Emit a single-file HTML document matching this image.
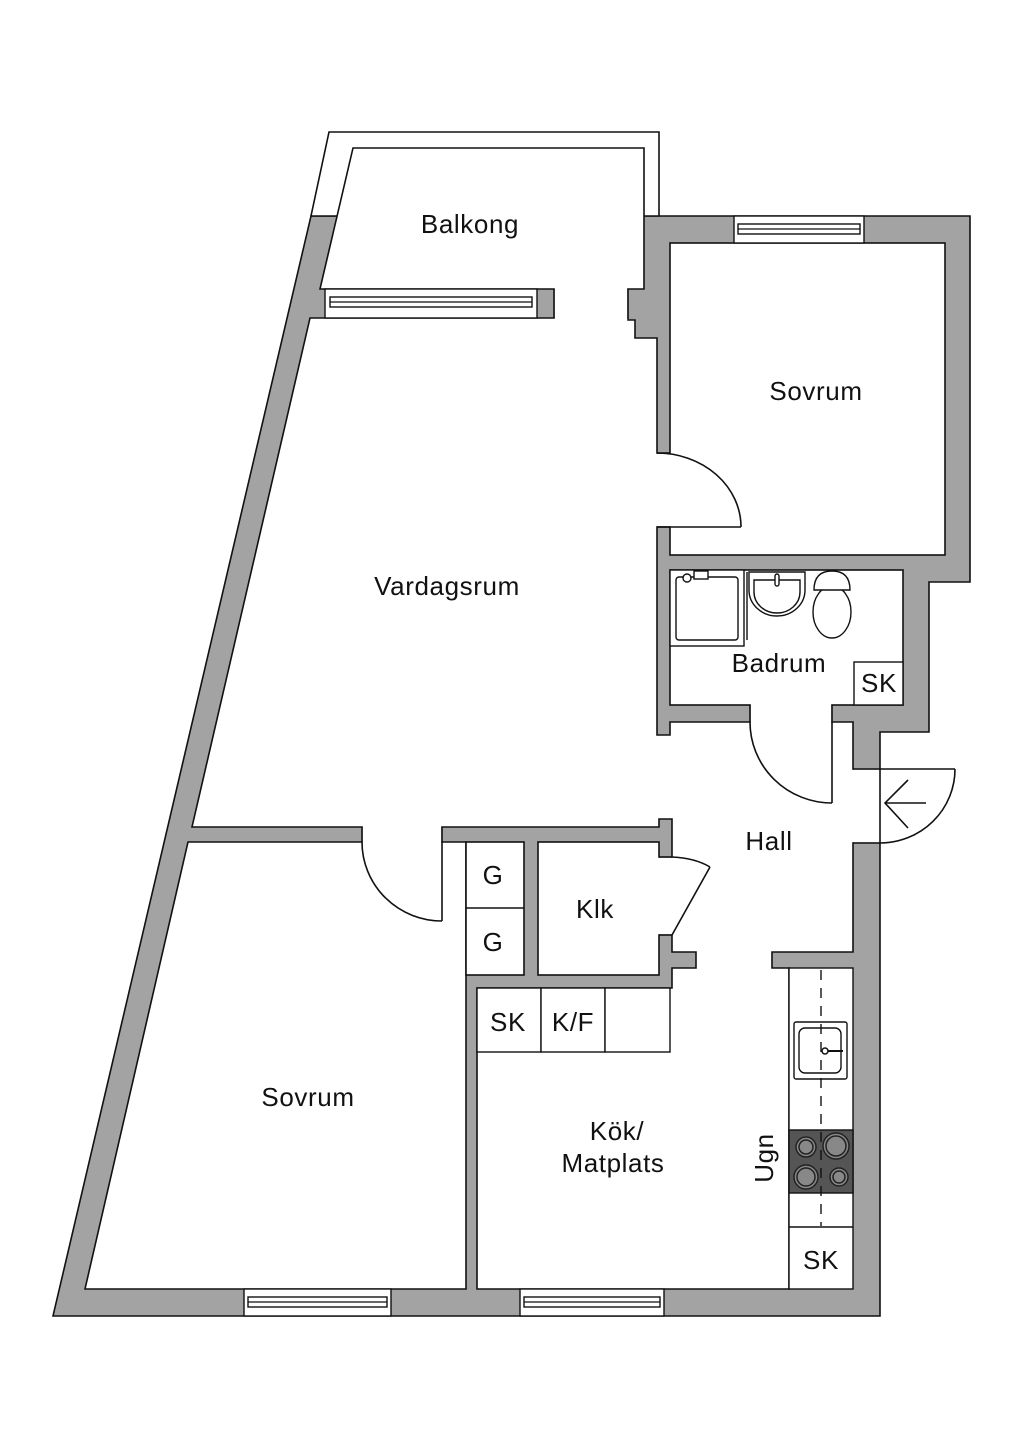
<!DOCTYPE html>
<html><head><meta charset="utf-8"><style>
html,body{margin:0;padding:0;background:#fff;}
svg{display:block;}
text{font-family:"Liberation Sans",sans-serif;font-size:26px;letter-spacing:0.6px;fill:#111;text-anchor:middle;dominant-baseline:central;}
</style></head><body>
<svg width="1024" height="1448" viewBox="0 0 1024 1448" xmlns="http://www.w3.org/2000/svg">
<g stroke="#111" stroke-width="1.6" stroke-linejoin="miter">
<polygon fill="#a3a3a3" points="311,216 970,216 970,582 929,582 929,732 880,732 880,1316 53,1316"/>
<polygon fill="#fff" points="329,132 659,132 659,216 311,216"/>
<polygon fill="#fff" points="353,148 644,148 644,289 320,289"/>
<polygon fill="#fff" points="310,318 628,318 628,320 635,320 635,338 657,338 657,735 670,735 670,722 853,722 853,952 772,952 772,968 789,968 789,1289 477,1289 477,988 672,988 672,968 696,968 696,952 672,952 672,819 659,819 659,827 192,827"/>
<rect fill="#fff" x="670" y="243" width="275" height="312"/>
<rect fill="#fff" x="670" y="570" width="233" height="135"/>
<polygon fill="#fff" points="188,842 466,842 466,1289 85,1289"/>
<rect fill="#fff" x="466" y="842" width="58" height="133"/>
<line x1="466" y1="908" x2="524" y2="908"/>
<rect fill="#fff" x="538" y="842" width="121" height="133"/>
</g>
<g fill="#fff">
<rect x="554.8" y="287" width="72.4" height="33"/>
<rect x="655" y="453.8" width="17" height="72.4"/>
<rect x="750.8" y="703" width="80.4" height="20"/>
<rect x="851" y="769.8" width="30.5" height="72.4"/>
<rect x="362.8" y="825" width="78.4" height="18.5"/>
<rect x="657" y="857.8" width="16.5" height="76.4"/>
</g>
<g stroke="#111" stroke-width="1.6" fill="none">
<line x1="554" y1="289" x2="554" y2="318"/><line x1="628" y1="289" x2="628" y2="318"/>
<line x1="657" y1="453" x2="670" y2="453"/><line x1="657" y1="527" x2="670" y2="527"/>
<line x1="750" y1="705" x2="750" y2="722"/><line x1="832" y1="705" x2="832" y2="722"/>
<line x1="853" y1="769" x2="880" y2="769"/><line x1="853" y1="843" x2="880" y2="843"/>
<line x1="880" y1="769" x2="880" y2="843"/>
<line x1="362" y1="827" x2="362" y2="842"/><line x1="442" y1="827" x2="442" y2="842"/>
<line x1="659" y1="857" x2="672" y2="857"/><line x1="659" y1="935" x2="672" y2="935"/>
<line x1="657" y1="527" x2="741" y2="527"/>
<path d="M657,453 A84,74 0 0 1 741,527"/>
<line x1="832" y1="722" x2="832" y2="803"/>
<path d="M750,722 A82,81 0 0 0 832,803"/>
<line x1="880" y1="769" x2="955" y2="769"/>
<path d="M955,769 A75,74 0 0 1 880,843"/>
<line x1="885" y1="803" x2="926" y2="803"/>
<polyline points="908,780 885,803 908,828"/>
<line x1="442" y1="842" x2="442" y2="921"/>
<path d="M362,842 A80,79 0 0 0 442,921"/>
<line x1="672" y1="935" x2="710" y2="867"/>
<path d="M672,857 Q695,858 710,867"/>
</g>
<g stroke="#111" stroke-width="1.4" fill="#fff">
<rect x="325" y="289" width="212" height="29"/>
<rect x="330" y="297" width="202" height="10"/>
<rect x="734" y="216" width="130" height="27"/>
<rect x="738" y="224" width="122" height="10"/>
<rect x="244" y="1289" width="147" height="27"/>
<rect x="248" y="1297" width="139" height="10"/>
<rect x="520" y="1289" width="144" height="27"/>
<rect x="524" y="1297" width="136" height="10"/>
</g>
<g stroke="#111" stroke-width="1.2" fill="none">
<line x1="330" y1="302" x2="532" y2="302"/>
<line x1="738" y1="229" x2="860" y2="229"/>
<line x1="248" y1="1302" x2="387" y2="1302"/>
<line x1="524" y1="1302" x2="660" y2="1302"/>
</g>
<g stroke="#111" stroke-width="1.4" fill="#fff">
<rect x="670" y="570" width="74" height="76"/>
<rect x="676" y="577" width="62" height="63" rx="3"/>
<circle cx="687" cy="578" r="4"/>
<rect x="694" y="571" width="14" height="8"/>
<line x1="747" y1="572" x2="747" y2="640"/>
<path d="M749,572 L805,572 L805,590 A28,26 0 0 1 749,590 Z"/>
<path d="M754,580 L800,580 L800,592 A23,21 0 0 1 754,592 Z"/>
<rect x="775" y="574" width="4" height="12" rx="2"/>
<ellipse cx="832" cy="612" rx="19" ry="26"/>
<path d="M814,590 Q814,571 832,571 Q850,571 850,590 Z"/>
<rect x="854" y="662" width="49" height="43"/>
</g>
<g stroke="#111" stroke-width="1.4" fill="#fff">
<rect x="477" y="988" width="64" height="64"/>
<rect x="541" y="988" width="64" height="64"/>
<rect x="605" y="988" width="65" height="64"/>
<rect x="789" y="968" width="64" height="321"/>
<line x1="789" y1="1227" x2="853" y2="1227"/>
<rect x="794" y="1022" width="53" height="57" rx="2"/>
<rect x="799" y="1028" width="42" height="45" rx="6"/>
<rect x="789" y="1130" width="64" height="63" fill="#555"/>
</g>
<line x1="821" y1="970" x2="821" y2="1226" stroke="#111" stroke-width="1.4" stroke-dasharray="10,8"/>
<g stroke="#222" stroke-width="1.5" fill="#888">
<circle cx="806" cy="1147" r="10"/><circle cx="806" cy="1147" r="7"/>
<circle cx="836" cy="1146" r="13"/><circle cx="836" cy="1146" r="10"/>
<circle cx="806" cy="1177" r="12"/><circle cx="806" cy="1177" r="9"/>
<circle cx="839" cy="1177" r="9"/><circle cx="839" cy="1177" r="6"/>
</g>
<line x1="825" y1="1051" x2="843" y2="1051" stroke="#111" stroke-width="2"/>
<circle cx="825" cy="1051" r="3" fill="#fff" stroke="#111" stroke-width="1.5"/>
<text x="470" y="224">Balkong</text>
<text x="816" y="391">Sovrum</text>
<text x="447" y="586">Vardagsrum</text>
<text x="779" y="663">Badrum</text>
<text x="879" y="683">SK</text>
<text x="769" y="841">Hall</text>
<text x="493" y="875">G</text>
<text x="493" y="942">G</text>
<text x="595" y="909">Klk</text>
<text x="508" y="1022">SK</text>
<text x="573" y="1022">K/F</text>
<text x="308" y="1097">Sovrum</text>
<text x="617" y="1131">Kök/</text>
<text x="613" y="1163">Matplats</text>
<text x="764" y="1158" transform="rotate(-90 764 1158)">Ugn</text>
<text x="821" y="1260">SK</text>
</svg>
</body></html>
